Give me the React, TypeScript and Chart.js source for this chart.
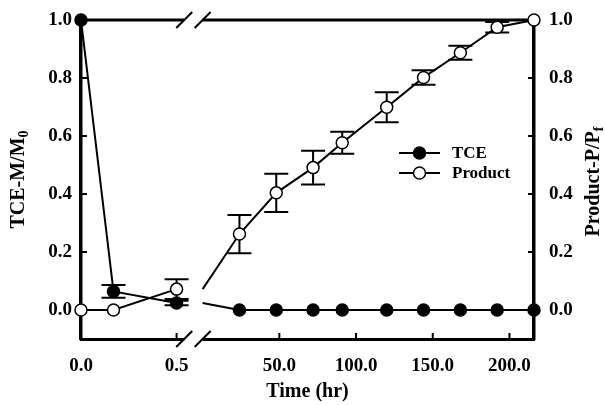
import React, { useEffect, useRef } from "react";
import { Chart, registerables } from "chart.js";

Chart.register(...registerables);

// ---- data (hours, normalized values, error half-widths) ----
const tceLeftHours = [0, 0.17, 0.5];
const tceLeftValues = [1.0, 0.064, 0.024];
const tceLeftErrors = [0, 0.022, 0.008];

const productLeftHours = [0, 0.17, 0.5];
const productLeftValues = [0, 0, 0.072];
const productLeftErrors = [0, 0, 0.034];

const rightHours = [24, 48, 72, 91, 120, 144, 168, 192, 216];
const tceRightValues = [0, 0, 0, 0, 0, 0, 0, 0, 0];
const tceRightErrors = [0, 0, 0, 0, 0, 0, 0, 0, 0];
const productRightValues = [0.262, 0.404, 0.491, 0.577, 0.699, 0.802, 0.887, 0.975, 1.0];
const productRightErrors = [0.066, 0.066, 0.058, 0.038, 0.052, 0.025, 0.024, 0.018, 0];

const leftTickHours = [0, 0.5];
const rightTickHours = [50, 100, 150, 200];
const yTickValues = [0, 0.2, 0.4, 0.6, 0.8, 1.0];

const seriesNames = ["TCE", "Product"];
const xTitle = "Time (hr)";
const leftTitleMain = "TCE-M/M";
const leftTitleSub = "0";
const rightTitleMain = "Product-P/P";
const rightTitleSub = "f";

// ---- broken axis: two hour-scales on one axis ----
const LEFT_SEG_END_HR = 0.5;
const LEFT_SEG_END_FRAC = 0.211;
const RIGHT_SEG_START_FRAC = 0.2685;
const RIGHT_SEG_MAX_HR = 216;
const BREAK_LEFT_HR = 0.54; // where the left segment is cut
const BREAK_RIGHT_HR = 0; // where the right segment starts

const leftPos = (h: number) => (h / LEFT_SEG_END_HR) * LEFT_SEG_END_FRAC;
const rightPos = (h: number) =>
  RIGHT_SEG_START_FRAC + (h / RIGHT_SEG_MAX_HR) * (1 - RIGHT_SEG_START_FRAC);

const xTickFracs = [...leftTickHours.map(leftPos), ...rightTickHours.map(rightPos)];
const xTickLabels = [...leftTickHours, ...rightTickHours].map((h) => h.toFixed(1));

const FONT = "'Liberation Serif', 'Times New Roman', serif";

function buildLeft(hours: number[], vals: number[], errs: number[]) {
  return hours.map((h, i) => ({ x: leftPos(h), y: vals[i], e: errs[i] }));
}
function buildRight(hours: number[], vals: number[], errs: number[], joinVal: number) {
  return [
    { x: rightPos(BREAK_RIGHT_HR), y: joinVal, e: 0, join: true },
    ...hours.map((h, i) => ({ x: rightPos(h), y: vals[i], e: errs[i] })),
  ];
}

const decorPlugin = {
  id: "decor",
  beforeDatasetsDraw(chart: any) {
    const ctx = chart.ctx;
    const { left, right, bottom } = chart.chartArea;
    const xs = chart.scales.x;
    const ys = chart.scales.y;
    const top = ys.getPixelForValue(1.0);
    ctx.save();
    ctx.strokeStyle = "#000";
    ctx.lineCap = "butt";

    // top frame line
    ctx.lineWidth = 3;
    ctx.beginPath();
    ctx.moveTo(left - 2, top);
    ctx.lineTo(right + 2, top);
    ctx.stroke();

    // inward tick marks
    ctx.lineWidth = 2;
    const tl = 6;
    xTickFracs.forEach((v) => {
      const px = xs.getPixelForValue(v);
      ctx.beginPath();
      ctx.moveTo(px, bottom);
      ctx.lineTo(px, bottom - tl);
      ctx.stroke();
    });
    yTickValues.forEach((v) => {
      const py = ys.getPixelForValue(v);
      ctx.beginPath();
      ctx.moveTo(left, py);
      ctx.lineTo(left + tl, py);
      ctx.moveTo(right, py);
      ctx.lineTo(right - tl, py);
      ctx.stroke();
    });

    // axis break
    const b1 = xs.getPixelForValue(leftPos(BREAK_LEFT_HR));
    const b2 = xs.getPixelForValue(rightPos(BREAK_RIGHT_HR));
    ctx.fillStyle = "#fff";
    [top, bottom].forEach((yy) => {
      ctx.fillRect(b1, yy - 3, b2 - b1, 6);
    });
    ctx.lineWidth = 2;
    const h = 8;
    [top, bottom].forEach((yy) => {
      [b1, b2].forEach((bx) => {
        ctx.beginPath();
        ctx.moveTo(bx - h, yy + h);
        ctx.lineTo(bx + h, yy - h);
        ctx.stroke();
      });
    });

    // error bars
    ctx.lineWidth = 2;
    const cap = 12;
    chart.data.datasets.forEach((ds: any) => {
      ds.data.forEach((p: any) => {
        if (!p.e) return;
        const px = xs.getPixelForValue(p.x);
        const y1 = ys.getPixelForValue(p.y + p.e);
        const y2 = ys.getPixelForValue(p.y - p.e);
        ctx.beginPath();
        ctx.moveTo(px, y1);
        ctx.lineTo(px, y2);
        ctx.moveTo(px - cap, y1);
        ctx.lineTo(px + cap, y1);
        ctx.moveTo(px - cap, y2);
        ctx.lineTo(px + cap, y2);
        ctx.stroke();
      });
    });
    ctx.restore();
  },
  afterDraw(chart: any) {
    const ctx = chart.ctx;
    const { top, bottom } = chart.chartArea;
    const midY = (top + bottom) / 2;
    ctx.save();
    ctx.fillStyle = "#000";
    ctx.textBaseline = "alphabetic";
    ctx.textAlign = "left";

    const drawRotated = (bx: number, cy: number, main: string, sub: string) => {
      ctx.save();
      ctx.translate(bx, cy);
      ctx.rotate(-Math.PI / 2);
      ctx.font = `bold 20px ${FONT}`;
      const w1 = ctx.measureText(main).width;
      ctx.font = `bold 14px ${FONT}`;
      const w2 = ctx.measureText(sub).width;
      const x0 = -(w1 + w2) / 2;
      ctx.font = `bold 20px ${FONT}`;
      ctx.fillText(main, x0, 0);
      ctx.font = `bold 14px ${FONT}`;
      ctx.fillText(sub, x0 + w1, 4);
      ctx.restore();
    };
    drawRotated(24, midY, leftTitleMain, leftTitleSub);
    drawRotated(599, midY + 2, rightTitleMain, rightTitleSub);

    // legend
    const lx1 = 399, lx2 = 440, mx = 419.5, tx = 452;
    const rows = [153, 173];
    rows.forEach((ry, i) => {
      ctx.strokeStyle = "#000";
      ctx.lineWidth = 2;
      ctx.beginPath();
      ctx.moveTo(lx1, ry);
      ctx.lineTo(lx2, ry);
      ctx.stroke();
      ctx.beginPath();
      ctx.arc(mx, ry, 6, 0, Math.PI * 2);
      ctx.fillStyle = i === 0 ? "#000" : "#fff";
      ctx.fill();
      ctx.lineWidth = 1.5;
      ctx.stroke();
      ctx.fillStyle = "#000";
      ctx.font = `bold 17px ${FONT}`;
      ctx.textBaseline = "middle";
      ctx.fillText(seriesNames[i], tx, ry + 1);
    });
    ctx.restore();
  },
};

export default function App() {
  const canvasRef = useRef<HTMLCanvasElement | null>(null);

  useEffect(() => {
    if (!canvasRef.current) return;
    const tickFont = { family: FONT, size: 19, weight: "bold" as const };
    const lineStyle = {
      showLine: true,
      borderColor: "#000",
      borderWidth: 2,
      pointBorderColor: "#000",
      pointBorderWidth: 1.5,
      pointRadius: (c: any) => (c.raw && c.raw.join ? 0 : 6),
      clip: false as any,
    };
    const fitVertical = (w: number) => (s: any) => {
      s.width = w;
      s.paddingTop = 0;
      s.paddingBottom = 0;
    };
    const chart = new Chart(canvasRef.current, {
      type: "scatter",
      data: {
        datasets: [
          {
            label: seriesNames[1],
            data: buildLeft(productLeftHours, productLeftValues, productLeftErrors),
            pointBackgroundColor: "#fff",
            ...lineStyle,
          },
          {
            label: seriesNames[1],
            data: buildRight(rightHours, productRightValues, productRightErrors, productLeftValues[productLeftValues.length - 1]),
            pointBackgroundColor: "#fff",
            ...lineStyle,
          },
          {
            label: seriesNames[0],
            data: buildLeft(tceLeftHours, tceLeftValues, tceLeftErrors),
            pointBackgroundColor: "#000",
            ...lineStyle,
          },
          {
            label: seriesNames[0],
            data: buildRight(rightHours, tceRightValues, tceRightErrors, tceLeftValues[tceLeftValues.length - 1]),
            pointBackgroundColor: "#000",
            ...lineStyle,
          },
        ] as any,
      },
      options: {
        responsive: false,
        animation: false,
        layout: { padding: { top: 20, left: 0, right: 0, bottom: 0 } },
        plugins: { legend: { display: false }, tooltip: { enabled: false } },
        scales: {
          x: {
            type: "linear",
            min: 0,
            max: 1,
            position: "bottom",
            grid: { display: false, drawTicks: false },
            border: { display: true, width: 3, color: "#000" },
            ticks: {
              font: tickFont,
              color: "#000",
              padding: 16,
              maxRotation: 0,
              autoSkip: false,
              callback: (_v: any, i: number) => xTickLabels[i],
            },
            afterBuildTicks: (s: any) => {
              s.ticks = xTickFracs.map((v) => ({ value: v }));
            },
            title: {
              display: true,
              text: xTitle,
              color: "#000",
              font: { family: FONT, size: 20, weight: "bold" },
              padding: { top: 0, bottom: 1 },
            },
            afterFit: (s: any) => {
              s.height = 66;
              s.paddingLeft = 0;
              s.paddingRight = 0;
            },
          },
          y: {
            type: "linear",
            min: -0.1,
            max: 1.0,
            position: "left",
            grid: { display: false, drawTicks: false },
            border: { display: true, width: 3.5, color: "#000" },
            ticks: {
              font: tickFont,
              color: "#000",
              padding: 9,
              callback: (v: any) => Number(v).toFixed(1),
            },
            afterBuildTicks: (s: any) => {
              s.ticks = yTickValues.map((v) => ({ value: v }));
            },
            afterFit: fitVertical(81),
          },
          y2: {
            type: "linear",
            min: -0.1,
            max: 1.0,
            position: "right",
            grid: { display: false, drawTicks: false },
            border: { display: true, width: 3.5, color: "#000" },
            ticks: {
              font: tickFont,
              color: "#000",
              padding: 15,
              callback: (v: any) => Number(v).toFixed(1),
            },
            afterBuildTicks: (s: any) => {
              s.ticks = yTickValues.map((v) => ({ value: v }));
            },
            afterFit: fitVertical(71),
          },
        },
      } as any,
      plugins: [decorPlugin],
    });
    return () => chart.destroy();
  }, []);

  return (
    <div style={{ position: "absolute", left: 0, top: 0, width: 605, height: 405, background: "#fff" }}>
      <canvas ref={canvasRef} width={605} height={405} style={{ width: 605, height: 405 }} />
    </div>
  );
}
